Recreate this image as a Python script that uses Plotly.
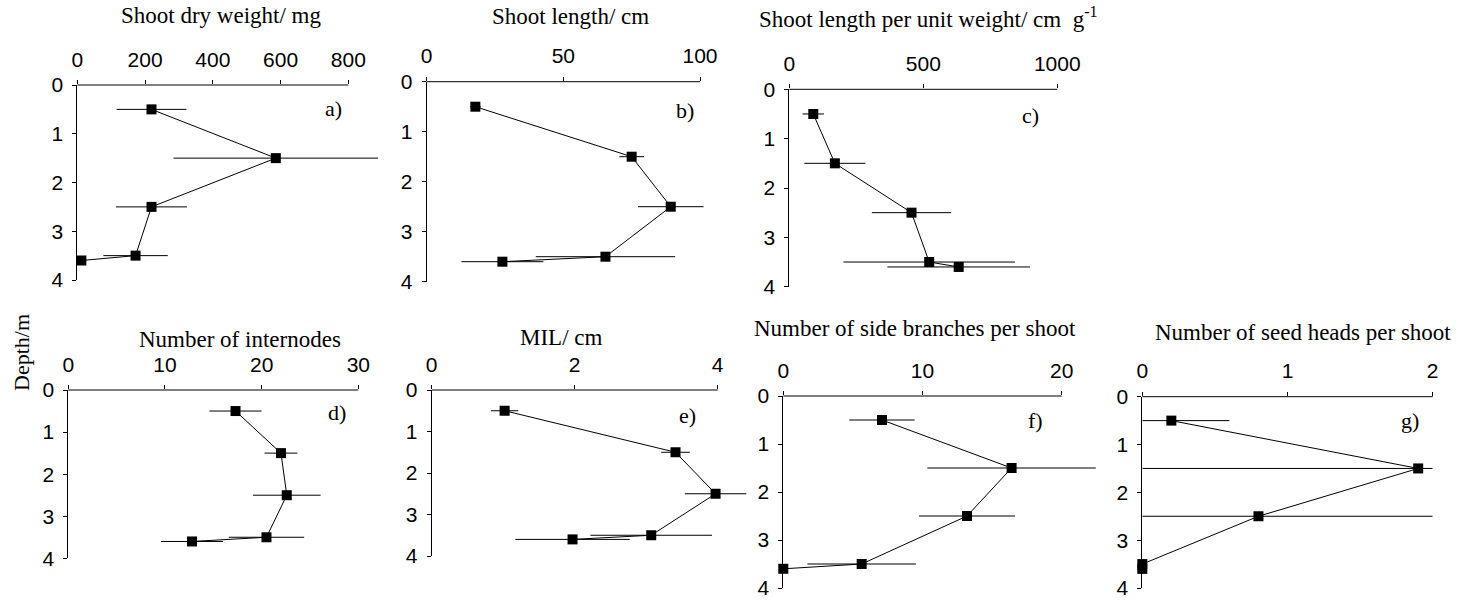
import plotly.graph_objects as go

W, H = 1468, 601

# ---------------- data ----------------
depth = [0.5, 1.5, 2.5, 3.5, 3.6]

dry_weight = [219, 586, 219, 172, 12]
dry_weight_err = [103, 302, 105, 95, 0]

shoot_length = [17.8, 75, 89.3, 65.4, 27.7]
shoot_length_err = [2, 4.5, 12, 25.5, 15]

length_per_weight = [89.5, 170, 456, 522, 632]
length_per_weight_err = [40, 114, 148, 320, 266]

internodes = [17.3, 22, 22.6, 20.5, 12.8]
internodes_err = [2.7, 1.7, 3.5, 3.9, 3.2]

mil = [1.02, 3.41, 3.97, 3.07, 1.97]
mil_err = [0.19, 0.2, 0.43, 0.85, 0.8]

side_branches = [7.09, 16.4, 13.2, 5.63, 0]
side_branches_err = [2.35, 6.05, 3.45, 3.9, 0]

seed_heads = [0.2, 1.9, 0.8, 0, 0]
seed_heads_err_plus = [0.4, 0.1, 1.2, 0, 0]
seed_heads_err_minus = [0.2, 1.9, 0.8, 0, 0]

titles = ["Shoot dry weight/ mg", "Shoot length/ cm",
          "Shoot length per unit weight/ cm  g<sup>-1</sup>",
          "Number of internodes", "MIL/ cm",
          "Number of side branches per shoot", "Number of seed heads per shoot"]
panel_labels = ["a)", "b)", "c)", "d)", "e)", "f)", "g)"]
xticks = [[0, 200, 400, 600, 800], [0, 50, 100], [0, 500, 1000],
          [0, 10, 20, 30], [0, 2, 4], [0, 10, 20], [0, 1, 2]]
yticks = [0, 1, 2, 3, 4]

values = [dry_weight, shoot_length, length_per_weight, internodes, mil,
          side_branches, seed_heads]
err_plus = [dry_weight_err, shoot_length_err, length_per_weight_err,
            internodes_err, mil_err, side_branches_err, seed_heads_err_plus]
err_minus = [dry_weight_err, shoot_length_err, length_per_weight_err,
             internodes_err, mil_err, side_branches_err, seed_heads_err_minus]

# ---------------- layout geometry (pixels) ----------------
# x0 px, px of last tick, y0 px (depth 0), y4 px (depth 4), axis extension
geom = [
    dict(x0=77.3, xt=348.3, y0=85.0, y4=280.0, ext=900),
    dict(x0=426.7, xt=700.0, y0=81.7, y4=281.7, ext=102),
    dict(x0=789.3, xt=1057.3, y0=89.3, y4=286.7, ext=1000),
    dict(x0=68.3, xt=358.3, y0=390.0, y4=558.3, ext=30),
    dict(x0=431.7, xt=717.7, y0=390.0, y4=556.0, ext=4.45),
    dict(x0=783.3, xt=1061.7, y0=396.0, y4=588.0, ext=22.5),
    dict(x0=1142.3, xt=1432.7, y0=396.7, y4=588.0, ext=2.0),
]
title_pos = [(221, 16), (570, 17), (928, 18), (240, 339), (561, 338),
             (915, 328), (1303, 333)]
label_pos = [(333, 108), (685, 110), (1030, 115), (337, 413), (687, 415),
             (1035, 420), (1410, 420)]

SERIF = "Liberation Serif, Times New Roman, serif"
SANS = "Liberation Sans, Arial, sans-serif"

fig = go.Figure()
annotations = []
shapes = []

for i in range(7):
    g = geom[i]
    n = "" if i == 0 else str(i + 1)
    tmax = xticks[i][-1]
    px_per = (g["xt"] - g["x0"]) / tmax
    x_end_px = g["x0"] + g["ext"] * px_per
    xdom = [g["x0"] / W, x_end_px / W]
    ydom = [1 - g["y4"] / H, 1 - g["y0"] / H]

    fig.add_trace(go.Scatter(
        x=values[i], y=depth, xaxis="x" + n, yaxis="y" + n,
        mode="lines+markers",
        line=dict(color="black", width=1),
        marker=dict(symbol="square", size=10, color="black"),
        error_x=dict(type="data", array=err_plus[i], arrayminus=err_minus[i],
                     symmetric=False, color="black", thickness=1, width=0),
        cliponaxis=False, showlegend=False, hoverinfo="skip",
    ))

    fig.layout["xaxis" + n] = dict(
        domain=xdom, range=[0, g["ext"]], side="top", anchor="y" + n,
        tickvals=xticks[i], ticktext=[str(v) for v in xticks[i]],
        ticks="outside", ticklen=4, tickcolor="black",
        showline=False, showgrid=False, zeroline=False, automargin=False,
        tickfont=dict(family=SANS, size=21, color="black"),
        ticklabelstandoff=5, ticklabeloverflow="allow",
    )
    fig.layout["yaxis" + n] = dict(
        domain=ydom, range=[4, 0], anchor="x" + n,
        tickvals=yticks, ticks="outside", ticklen=4, tickcolor="black",
        showline=True, linecolor="black", linewidth=1,
        showgrid=False, zeroline=False, automargin=False,
        tickfont=dict(family=SANS, size=21, color="black"),
        ticklabelstandoff=5, ticklabeloverflow="allow",
    )
    # x axis line only up to the last tick
    shapes.append(dict(type="line", xref="paper", yref="paper",
                       x0=g["x0"] / W, x1=g["xt"] / W,
                       y0=1 - g["y0"] / H, y1=1 - g["y0"] / H,
                       line=dict(color="black", width=1)))
    tx, ty = title_pos[i]
    annotations.append(dict(text=titles[i], xref="paper", yref="paper",
                            x=tx / W, y=1 - ty / H, xanchor="center",
                            yanchor="middle", showarrow=False,
                            font=dict(family=SERIF, size=23, color="black")))
    lx, ly = label_pos[i]
    annotations.append(dict(text=panel_labels[i], xref="paper", yref="paper",
                            x=lx / W, y=1 - ly / H, xanchor="center",
                            yanchor="middle", showarrow=False,
                            font=dict(family=SERIF, size=22, color="black")))

annotations.append(dict(text="Depth/m", xref="paper", yref="paper",
                        x=21 / W, y=1 - 353 / H, textangle=-90,
                        xanchor="center", yanchor="middle", showarrow=False,
                        font=dict(family=SERIF, size=22, color="black")))

fig.update_layout(width=W, height=H, autosize=False,
                  margin=dict(l=0, r=0, t=0, b=0, pad=0, autoexpand=False),
                  paper_bgcolor="white", plot_bgcolor="white",
                  annotations=annotations, shapes=shapes)

fig.write_html(
    "out.html",
    config={"responsive": False, "displayModeBar": False},
    post_script="document.documentElement.style.margin='0';"
                "document.body.style.margin='0';"
                "document.body.style.overflow='hidden';",
)
